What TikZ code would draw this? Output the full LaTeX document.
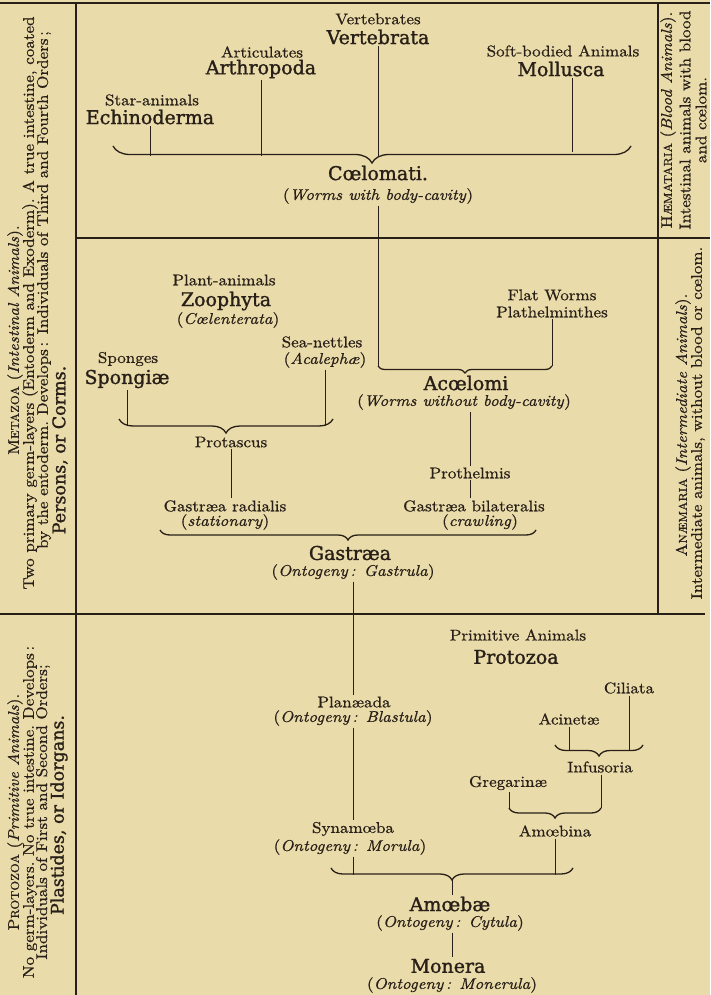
\documentclass[tikz,border=0pt]{standalone}
\usepackage{fontspec}
\usepackage{tikz}
\usetikzlibrary{decorations.pathreplacing,calc}
\newfontfamily\bk{lmroman10}[Extension=.otf, UprightFont=*-regular, ItalicFont=*-italic, BoldFont=*-bold, FakeStretch=1.1, FakeBold=0.7]
\newfontfamily\cl{DejaVu Serif}[FakeBold=1.4]
\newcommand\fakesc[2]{#1{\fontsize{11.5}{12}\selectfont #2}}
\definecolor{paper}{RGB}{234,219,170}
\definecolor{ink}{RGB}{40,32,24}

\begin{document}
\begin{tikzpicture}[x=1pt, y=-1pt, line width=0.9pt, draw=ink, text=ink,
  lab/.style={font=\bk\fontsize{15.5}{17}\selectfont, inner sep=1.5pt},
  nam/.style={font=\cl\fontsize{19}{21}\selectfont, inner sep=1.5pt},
  side/.style={lab, rotate=90},
  sidenam/.style={font=\cl\fontsize{17.5}{19}\selectfont, inner sep=1.5pt, rotate=90},
  frm/.style={line width=1.4pt},
  brc/.style={decorate, decoration={brace, mirror, amplitude=#1}, line width=1.3pt}]
\useasboundingbox (0,0) rectangle (710,995);
\fill[paper] (0,0) rectangle (710,995);

\draw[frm] (0,3) -- (710,3);
\draw[frm] (76,3) -- (76,995);
\draw[frm] (658,3) -- (658,613);
\draw[frm] (76,238) -- (710,238);
\draw[frm] (0,614) -- (705,614);

\node[side] (metat) at (15,340) {\fakesc{M}{ETAZOA} (\textit{Intestinal Animals}).};
\node[side] (meta2) at (30,303) {Two primary germ-layers (Entoderm and Exoderm).\ A true intestine, coated};
\node[side] (meta3) at (44,290) {by the entoderm.\ Develops\,: Individuals of Third and Fourth Orders\,;};
\node[sidenam] (meta4) at (60,450) {Persons, or Corms.};
\node[side] (protot) at (15,812) {\fakesc{P}{ROTOZOA} (\textit{Primitive Animals}).};
\node[side] (proto2) at (30,812) {No germ-layers.\ No true intestine.\ Develops\,:};
\node[side] (proto3) at (43,812) {Individuals of First and Second Orders;};
\node[sidenam] (proto4) at (59,815) {Plastides, or Idorgans.};
\node[side] (haemt) at (668,120) {\fakesc{H}{ÆMATARIA} (\textit{Blood Animals}).};
\node[side] (haem2) at (685,120) {Intestinal animals with blood};
\node[side] (haem3) at (701,120) {and cœlom.};
\node[side] (anaet) at (683,425) {\fakesc{A}{NÆMARIA} (\textit{Intermediate Animals}).};
\node[side] (anae2) at (698,423) {Intermediate animals, without blood or cœlom.};

\node[lab] (vertc) at (378,19) {Vertebrates};
\node[nam] (vert) at (378,37) {Vertebrata};
\node[lab] (arthc) at (262,52) {Articulates};
\node[nam] (arth) at (261,69) {Arthropoda};
\node[lab] (echic) at (152,100) {Star-animals};
\node[nam] (echi) at (150,117) {Echinoderma};
\node[lab] (mollc) at (563,51) {Soft-bodied Animals};
\node[nam] (moll) at (561,69) {Mollusca};
\coordinate (coell) at (113,146);
\coordinate (coelr) at (631,146);
\coordinate (coelbar) at (0,156);
\draw[brc=17pt] (coell) -- (coelr);
\draw (vert.south) -- (vert.south |- coelbar);
\draw (arth.south) -- (arth.south |- coelbar);
\draw (echi.south) -- (echi.south |- coelbar);
\draw ($(moll.south)+(11,0)$) -- ($(moll.south |- coelbar)+(11,-4)$);
\node[nam] (coel) at (378,173) {Cœlomati.};
\node[lab] (coelw) at (378,196) {(\textit{Worms with body-cavity})};

\coordinate (acl) at (378,366);
\coordinate (acr) at (552,366);
\draw (coelw.south) -- (acl);
\draw[brc=7pt] (acl) -- (acr);
\node[lab] (flc) at (552,295) {Flat Worms};
\node[lab] (pla) at (552,312) {Plathelminthes};
\draw (pla.south) -- (acr);
\node[nam] (acoe) at (466,383) {Acœlomi};
\node[lab] (acoew) at (464,402) {(\textit{Worms without body-cavity})};
\node[lab] (proth) at (470,473) {Prothelmis};
\draw (proth.north |- acoew.south) -- (proth.north);
\node[lab] (grb) at (474,506) {Gastræa bilateralis};
\node[lab] (grbc) at (480,522) {(\textit{crawling})};
\draw (proth.south) -- (proth.south |- grb.north);

\node[lab] (plc) at (224,280) {Plant-animals};
\node[nam] (zoo) at (226,301) {Zoophyta};
\node[lab] (zool) at (228,320) {(\textit{Cœlenterata})};
\node[lab] (seac) at (322,342) {Sea-nettles};
\node[lab] (seal) at (325,360) {(\textit{Acalephæ})};
\node[lab] (spoc) at (128,359) {Sponges};
\node[nam] (spo) at (127,379) {Spongiæ};
\coordinate (pl) at (119,419);
\coordinate (pr) at (333,419);
\coordinate (pbar) at (0,426);
\draw[brc=14pt] (pl) -- (pr);
\draw (spo.south) -- (spo.south |- pbar);
\draw (seal.south) -- (seal.south |- pbar);
\node[lab] (prot) at (231,442) {Protascus};
\node[lab] (gra) at (225,506) {Gastræa radialis};
\node[lab] (gras) at (225,522) {(\textit{stationary})};
\draw (prot.south) -- (prot.south |- gra.north);

\coordinate (gl) at (160,530);
\coordinate (gr) at (536,530);
\draw[brc=10pt] (gl) -- (gr);
\node[nam] (gas) at (350,553) {Gastræa};
\node[lab] (gasg) at (353,572) {(\textit{Ontogeny\,: Gastrula})};

\node[lab] (plan) at (354,702) {Planæada};
\node[lab] (planb) at (353,718) {(\textit{Ontogeny\,: Blastula})};
\draw (gasg.south) -- (gasg.south |- plan.north);
\node[lab] (syn) at (353,829) {Synamœba};
\node[lab] (synm) at (350,847) {(\textit{Ontogeny\,: Morula})};
\draw (planb.south) -- (planb.south |- syn.north);
\coordinate (bl) at (331,868);
\coordinate (br) at (573,868);
\coordinate (bbar) at (0,875);
\draw[brc=12pt] (bl) -- (br);
\draw (syn.south |- synm.south) -- (syn.south |- bbar);

\node[lab] (pric) at (518,635) {Primitive Animals};
\node[nam] (pro) at (516,657) {Protozoa};
\node[lab] (cil) at (629,688) {Ciliata};
\node[lab] (aci) at (569,719) {Acinetæ};
\coordinate (il) at (555,745);
\coordinate (ir) at (643,745);
\coordinate (ibar) at (0,751);
\draw[brc=11pt] (il) -- (ir);
\draw (cil.south) -- (cil.south |- ibar);
\draw (aci.south) -- (aci.south |- ibar);
\node[lab] (inf) at (600,767) {Infusoria};
\node[lab] (greg) at (508,783) {Gregarinæ};
\coordinate (al) at (509,808);
\coordinate (ar) at (601,808);
\draw[brc=10pt] (al) -- (ar);
\draw (ar |- inf.south) -- (ar);
\draw (al |- greg.south) -- (al);
\node[lab] (amb) at (555,831) {Amœbina};
\draw (amb.south) -- (amb.south |- bbar);

\node[nam] (amo) at (450,904) {Amœbæ};
\node[lab] (amoc) at (450,923) {(\textit{Ontogeny\,: Cytula})};
\coordinate (btip) at (452,880);
\draw (btip) -- (btip |- amo.north);
\node[nam] (mon) at (448,966) {Monera};
\node[lab] (monm) at (452,985) {(\textit{Ontogeny\,: Monerula})};
\draw (btip |- amoc.south) -- (btip |- mon.north);
\end{tikzpicture}
\end{document}
